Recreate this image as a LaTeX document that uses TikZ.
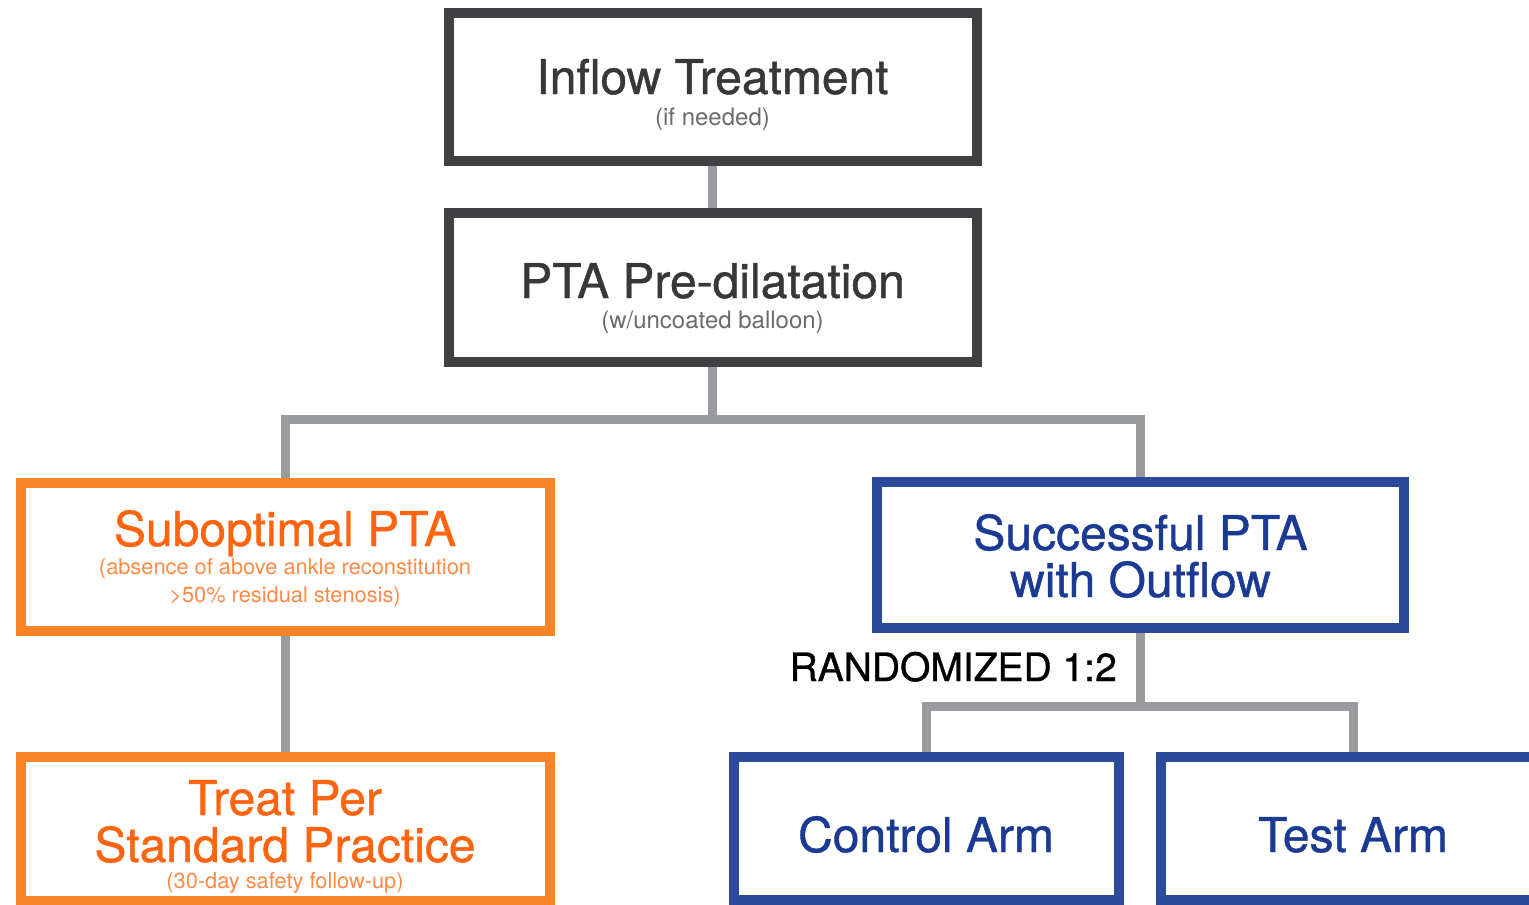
\documentclass[tikz,border=0pt]{standalone}
\usepackage{fontspec}
\setmainfont{TeX Gyre Heros}
\newfontfamily\medfont[FakeBold=0.9]{TeX Gyre Heros}
\newfontfamily\randfont[FakeBold=0.9]{TeX Gyre Heros}
\definecolor{darkline}{HTML}{404042}
\definecolor{darktext}{HTML}{38383A}
\definecolor{subgray}{HTML}{6A6B6E}
\definecolor{conngray}{HTML}{9A9B9E}
\definecolor{orangeline}{HTML}{F8842A}
\definecolor{orangetext}{HTML}{FF6510}
\definecolor{orangesub}{HTML}{FF8A45}
\definecolor{blueline}{HTML}{2B4A9A}
\definecolor{bluetext}{HTML}{1B3A93}
\tikzset{
  boxbase/.style={draw, rectangle, line width=10pt, inner sep=0pt, fill=white},
  darkbox/.style={boxbase, draw=darkline},
  orangebox/.style={boxbase, draw=orangeline},
  bluebox/.style={boxbase, draw=blueline},
  headtxt/.style={anchor=base, inner sep=0pt, font=\medfont\fontsize{48}{56}\selectfont},
  subtxt/.style={anchor=base, inner sep=0pt, font=\fontsize{24}{28}\selectfont},
  smalltxt/.style={anchor=base, inner sep=0pt, font=\fontsize{21.8}{26}\selectfont},
  conn/.style={draw=conngray, line width=9pt, line join=miter},
}
\begin{document}
\begin{tikzpicture}[x=1pt, y=-1pt]
\useasboundingbox (0,0) rectangle (1529,905);
% boxes
\node[darkbox, minimum width=528pt, minimum height=148pt] (inflow) at (712.5,86.5) {};
\node[darkbox, minimum width=528pt, minimum height=149pt] (pta) at (712.5,287) {};
\node[orangebox, minimum width=529pt, minimum height=148pt] (subopt) at (285,556.5) {};
\node[bluebox, minimum width=527pt, minimum height=146pt] (success) at (1140.5,555) {};
\node[orangebox, minimum width=529pt, minimum height=144pt] (treat) at (285,829) {};
\node[bluebox, minimum width=385pt, minimum height=143pt] (control) at (926.5,828.5) {};
\node[bluebox, minimum width=385pt, minimum height=143pt] (test) at (1353.5,828.5) {};
% connector split points
\coordinate (split1) at (712.5,419);
\coordinate (split2) at (1140.5,706);
% connectors
\draw[conn] (inflow.south) -- (pta.north);
\draw[conn] (pta.south) -- (split1);
\draw[conn] (subopt.north) |- (split1) -| (success.north);
\draw[conn] (subopt.south) -- (treat.north);
\draw[conn] (success.south) -- (split2);
\draw[conn] (control.north) |- (split2) -| (test.north);
% texts
\node[headtxt, text=darktext] (inflowA) at (712.5,94) {Inflow Treatment};
\node[subtxt, text=subgray] (inflowB) at (712.5,125) {(if needed)};
\node[headtxt, text=darktext] (ptaA) at (712.5,298) {PTA Pre-dilatation};
\node[subtxt, text=subgray] (ptaB) at (712.5,328) {(w/uncoated balloon)};
\node[headtxt, text=orangetext] (suboptA) at (285,546) {Suboptimal PTA};
\node[smalltxt, text=orangesub] (suboptB) at (285,574) {(absence of above ankle reconstitution};
\node[smalltxt, text=orangesub] (suboptC) at (285,602) {>50\% residual stenosis)};
\node[headtxt, text=bluetext] (successA) at (1140.5,550) {Successful PTA};
\node[headtxt, text=bluetext] (successB) at (1140.5,597) {with Outflow};
\node[headtxt, text=orangetext] (treatA) at (285,815) {Treat Per};
\node[headtxt, text=orangetext] (treatB) at (285,862) {Standard Practice};
\node[smalltxt, text=orangesub] (treatC) at (285,888) {(30-day safety follow-up)};
\node[headtxt, text=bluetext] (controlA) at (926,852) {Control Arm};
\node[headtxt, text=bluetext] (testA) at (1353,852) {Test Arm};
\node[anchor=base east, inner sep=0pt, font=\randfont\fontsize{39}{46}\selectfont, text=black] (rand) at (1117,681) {RANDOMIZED 1:2};
\end{tikzpicture}
\end{document}
